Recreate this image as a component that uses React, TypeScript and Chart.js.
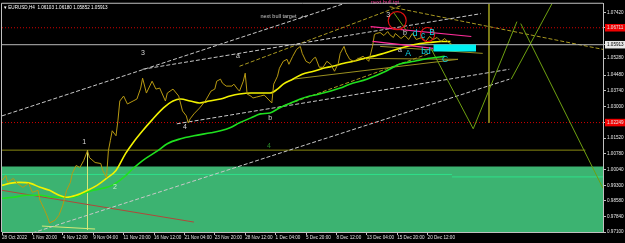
import React, { useEffect, useRef } from 'react';
import { Chart, registerables } from 'chart.js';

Chart.register(...registerables);

const X_MAX = 316.3;
const Y_MIN = 0.971;
const Y_MAX = 1.0784;

const symbolName = 'EURUSD,H4';
const ohlcValues = [1.06103, 1.0618, 1.05852, 1.05913];

const xTickBars = [0, 16, 32, 48, 64, 80, 96, 112, 128, 144, 160, 176, 192, 208, 224];
const xTickLabels = ['28 Oct 2022', '1 Nov 20:00', '4 Nov 12:00', '9 Nov 04:00', '11 Nov 20:00', '16 Nov 12:00', '21 Nov 04:00', '23 Nov 20:00', '28 Nov 12:00', '1 Dec 04:00', '5 Dec 20:00', '8 Dec 12:00', '13 Dec 04:00', '15 Dec 20:00', '20 Dec 12:00'];
const yTickValues = [1.0742, 1.06711, 1.05913, 1.0528, 1.0448, 1.0374, 1.03, 1.02249, 1.0152, 1.0078, 1.0004, 0.993, 0.9858, 0.9784, 0.971];

const bidPrice = 1.05913;
const redLevels = [1.06711, 1.02249];
const oliveLevel = 1.00952;
const zoneTop = 1.00182;
const greenLevels = [0.99808, 0.99692];
const greenLevelSplitBar = 236.8;

// [bar, close]
const priceCloses: [number, number][] = [
  [0, 0.99528], [2, 0.99759], [3, 0.99435], [6, 0.99621], [8, 0.99388], [11, 0.99201], [14, 0.99388], [16, 0.98968],
  [19, 0.99061], [20, 0.98594], [22, 0.98221], [24, 0.978], [25, 0.9752], [28, 0.9766], [30, 0.97894], [32, 0.98361],
  [34, 0.99061], [36, 0.99435], [37, 0.99855], [39, 1.00229], [41, 1.00135], [43, 1.00462], [45, 1.00929], [46, 1.00602],
  [49, 1.00369], [52, 1.00322], [53, 0.99995], [55, 0.99668], [56, 1.00929], [57, 1.01396], [58, 1.01863], [60, 1.01629],
  [61, 1.0233], [62, 1.03264], [64, 1.03497], [66, 1.03124], [69, 1.03264], [71, 1.03357], [73, 1.03871], [74, 1.04338],
  [76, 1.03638], [79, 1.04198], [81, 1.03824], [83, 1.03871], [86, 1.03264], [87, 1.03638], [90, 1.03824], [93, 1.03497],
  [95, 1.02797], [97, 1.02564], [98, 1.02237], [99, 1.02424], [101, 1.02657], [104, 1.02937], [107, 1.03264], [110, 1.03731],
  [112, 1.03824], [113, 1.04198], [115, 1.04291], [116, 1.04105], [118, 1.03965], [121, 1.03965], [122, 1.04058], [124, 1.03824],
  [125, 1.03731], [127, 1.04198], [128, 1.04572], [129, 1.03591], [131, 1.03497], [132, 1.03404], [134, 1.03451], [136, 1.03497],
  [138, 1.03544], [140, 1.03357], [142, 1.03171], [143, 1.04058], [145, 1.04432], [146, 1.04805], [148, 1.05132], [150, 1.05225],
  [151, 1.04992], [153, 1.05366], [155, 1.05692], [157, 1.05833], [158, 1.05506], [160, 1.05132], [162, 1.05039], [164, 1.05272],
  [165, 1.05319], [167, 1.04852], [169, 1.04852], [171, 1.05132], [173, 1.04992], [175, 1.04665], [177, 1.05039], [178, 1.05506],
  [180, 1.05833], [181, 1.05552], [183, 1.05225], [185, 1.05132], [187, 1.05225], [190, 1.05366], [192, 1.05225], [193, 1.05132],
  [195, 1.05833], [196, 1.06393], [197, 1.0644], [199, 1.06486], [201, 1.06346], [203, 1.06533], [204, 1.06393], [206, 1.06253],
  [207, 1.0644], [210, 1.06206], [212, 1.06346], [214, 1.06159], [216, 1.0644], [218, 1.06159], [221, 1.06253], [223, 1.06066],
  [225, 1.063], [227, 1.06159], [229, 1.06253], [231, 1.06066], [233, 1.06206], [235, 1.06019], [237, 1.05913],
];

const yellowMa: [number, number][] = [
  [0, 0.99295], [4, 0.99388], [9, 0.99435], [15, 0.99388], [20, 0.99201], [25, 0.99061], [30, 0.98828], [34, 0.98734],
  [39, 0.98828], [45, 0.99061], [50, 0.99295], [55, 0.99621], [60, 0.99995], [65, 1.00789], [69, 1.01303], [74, 1.01863],
  [79, 1.02377], [85, 1.02937], [90, 1.03264], [94, 1.03357], [99, 1.03264], [104, 1.03171], [109, 1.03264], [115, 1.03357],
  [120, 1.03497], [125, 1.03591], [131, 1.03638], [136, 1.03638], [141, 1.03638], [145, 1.03824], [148, 1.04058], [153, 1.04291],
  [158, 1.04525], [164, 1.04665], [169, 1.04805], [174, 1.04899], [180, 1.05039], [185, 1.05132], [191, 1.05272], [199, 1.05459],
  [209, 1.05739], [215, 1.05879], [220, 1.05973], [225, 1.06019], [231, 1.06066], [236, 1.06066],
];

const greenMa: [number, number][] = [
  [0, 0.98687], [6, 0.98734], [13, 0.98828], [20, 0.98828], [27, 0.98734], [32, 0.98734], [37, 0.98734], [43, 0.98921],
  [48, 0.99061], [53, 0.99154], [58, 0.99295], [64, 0.99668], [69, 1.00088], [74, 1.00462], [82, 1.00929], [87, 1.01256],
  [94, 1.01489], [101, 1.01629], [110, 1.0177], [115, 1.01863], [120, 1.02003], [125, 1.02237], [131, 1.0247], [136, 1.02657],
  [141, 1.02704], [146, 1.02937], [152, 1.03171], [157, 1.03357], [162, 1.03497], [167, 1.03591], [173, 1.03731], [178, 1.03871],
  [183, 1.04058], [192, 1.04291], [202, 1.04665], [209, 1.04992], [217, 1.05132], [225, 1.05272], [233, 1.05366],
];

// [bar1, price1, bar2, price2]
const grayDashSegments = [
  [0, 1.02564, 183, 1.07934],
  [74, 1.04758, 252, 1.07374],
  [16, 0.97053, 267, 1.04291],
  [92, 1.0219, 267, 1.04758],
];
const oliveDashSegments = [
  [125, 1.04899, 210, 1.07747],
  [145, 1.02937, 225, 1.05506],
  [204, 1.07701, 316.3, 1.05692],
];
const oliveSegments = [
  [153, 1.04291, 240, 1.05225],
  [187, 1.05272, 240, 1.05225],
  [199, 1.05833, 253, 1.05506],
];
const projectionSegments = [
  [226, 1.05692, 248, 1.01957],
  [248, 1.01957, 271, 1.06999],
  [268, 1.04291, 290, 1.07934],
  [273, 1.06907, 316.3, 0.99154],
  [205.8, 1.07467, 213.2, 1.06533],
];
const magentaSegments = [
  [194, 1.06767, 247, 1.063],
  [195, 1.06066, 227, 1.05739],
];
const brownSegments = [[0, 0.99061, 101, 0.97567]];
const paleSegments = [
  [45, 1.00929, 45, 0.97193],
  [21, 0.9738, 49, 0.9724],
];
const verticalSegments = [[256.3, 1.0784, 256.3, 1.02237]];

const cyanBoxBars = [227, 249.5];
const cyanBoxPrices = [1.05926, 1.05599];

const circleCenters: [number, number][] = [[208, 1.07047], [224, 1.06393]];

const textLabels = [
  { text: '3', bar: 74.2, price: 1.05506, tone: 'white' },
  { text: '1', bar: 43.2, price: 1.01349, tone: 'white' },
  { text: '2', bar: 59.5, price: 0.99201, tone: 'pale' },
  { text: '4', bar: 96.3, price: 1.0205, tone: 'white' },
  { text: 'a', bar: 124.2, price: 1.05366, tone: 'white' },
  { text: 'b', bar: 141.1, price: 1.0247, tone: 'white' },
  { text: '4', bar: 140.5, price: 1.01163, tone: 'dark' },
  { text: 'next bull target _++', bar: 148.4, price: 1.07234, tone: 'small' },
  { text: 'next bull tgt', bar: 201.6, price: 1.07887, tone: 'magenta' },
  { text: '3', bar: 203.2, price: 1.07327, tone: 'white' },
  { text: 'b', bar: 212.1, price: 1.0644, tone: 'white' },
  { text: 'a', bar: 209.5, price: 1.05646, tone: 'white' },
  { text: 'd', bar: 217.4, price: 1.0644, tone: 'cyan' },
  { text: 'c', bar: 221.6, price: 1.06346, tone: 'cyan' },
  { text: 'B', bar: 226.3, price: 1.06486, tone: 'cyan' },
  { text: 'A', bar: 213.7, price: 1.05506, tone: 'cyan' },
  { text: 'bd', bar: 223.2, price: 1.05599, tone: 'cyan' },
  { text: 'C', bar: 233.2, price: 1.05225, tone: 'cyan' },
];

const FONT = '"Liberation Sans", Arial, sans-serif';
const toneStyle: Record<string, { color: string; size: number }> = {
  white: { color: '#d8d8d8', size: 7 },
  pale: { color: '#c8f0c8', size: 7 },
  dark: { color: '#2a8a2a', size: 7 },
  small: { color: '#c8c8c8', size: 5.5 },
  magenta: { color: '#ff3399', size: 5.5 },
  cyan: { color: '#10d8e8', size: 8.5 },
};

const pts = (s: number[]) => [{ x: s[0], y: s[1] }, { x: s[2], y: s[3] }];

function lineDs(data: { x: number; y: number }[], color: string, width: number, dash: number[], order: number, extra: any = {}) {
  return {
    type: 'line',
    data,
    borderColor: color,
    borderWidth: width,
    borderDash: dash,
    pointRadius: 0,
    pointHoverRadius: 0,
    fill: false,
    tension: 0,
    order,
    ...extra,
  };
}

const mtPlugin = {
  id: 'mtDecor',
  beforeDraw(chart: any) {
    const { ctx, width, height } = chart;
    ctx.save();
    ctx.fillStyle = '#000000';
    ctx.fillRect(0, 0, width, height);
    ctx.restore();
  },
  afterDatasetsDraw(chart: any) {
    const { ctx, scales } = chart;
    ctx.save();
    ctx.textAlign = 'center';
    ctx.textBaseline = 'middle';
    textLabels.forEach((l) => {
      const st = toneStyle[l.tone];
      ctx.font = `${st.size}px ${FONT}`;
      ctx.fillStyle = st.color;
      ctx.fillText(l.text, scales.x.getPixelForValue(l.bar), scales.y.getPixelForValue(l.price));
    });
    ctx.restore();
  },
  afterDraw(chart: any) {
    const { ctx, chartArea } = chart;
    ctx.save();
    ctx.strokeStyle = '#c0c0c0';
    ctx.lineWidth = 1;
    ctx.beginPath();
    ctx.moveTo(chartArea.left - 0.5, chartArea.bottom);
    ctx.lineTo(chartArea.left - 0.5, chartArea.top - 0.5);
    ctx.lineTo(chartArea.right, chartArea.top - 0.5);
    ctx.stroke();
    ctx.font = `4.6px ${FONT}`;
    ctx.fillStyle = '#ffffff';
    ctx.textBaseline = 'middle';
    ctx.textAlign = 'left';
    ctx.fillText('\u25BE ' + symbolName + '  ' + ohlcValues.map((v) => v.toFixed(5)).join(' '), chartArea.left + 2, chartArea.top + 4);
    ctx.restore();
  },
};

export default function App() {
  const canvasRef = useRef<HTMLCanvasElement | null>(null);

  useEffect(() => {
    document.body.style.margin = '0';
    document.body.style.background = '#000';
    const canvas = canvasRef.current;
    if (!canvas) return;

    const datasets: any[] = [];
    datasets.push(lineDs([{ x: 0, y: zoneTop }, { x: X_MAX, y: zoneTop }], 'rgba(0,0,0,0)', 0, [], 100, { fill: 'start', backgroundColor: '#3cb371' }));
    datasets.push(lineDs([{ x: 0, y: greenLevels[0] }, { x: greenLevelSplitBar, y: greenLevels[0] }], '#2ee08a', 1, [], 90));
    datasets.push(lineDs([{ x: greenLevelSplitBar, y: greenLevels[1] }, { x: X_MAX, y: greenLevels[1] }], '#2ee08a', 1, [], 90));
    datasets.push(lineDs([{ x: 0, y: oliveLevel }, { x: 307, y: oliveLevel }], '#8a8a10', 1, [], 90));
    redLevels.forEach((v) => datasets.push(lineDs([{ x: 0, y: v }, { x: X_MAX, y: v }], '#d00000', 1, [1, 2], 89)));
    datasets.push(lineDs([{ x: 0, y: bidPrice }, { x: X_MAX, y: bidPrice }], '#b8b8b8', 1, [], 60));
    brownSegments.forEach((s) => datasets.push(lineDs(pts(s), '#b0483a', 1, [], 85)));
    paleSegments.forEach((s) => datasets.push(lineDs(pts(s), '#d8e878', 1, [], 85)));
    grayDashSegments.forEach((s) => datasets.push(lineDs(pts(s), '#c8c8c8', 1, [4, 2], 80)));
    oliveDashSegments.forEach((s) => datasets.push(lineDs(pts(s), '#a89820', 1, [4, 2], 80)));
    oliveSegments.forEach((s) => datasets.push(lineDs(pts(s), '#9a9020', 1, [], 80)));
    verticalSegments.forEach((s) => datasets.push(lineDs(pts(s), '#8c8c1c', 1, [], 80)));
    projectionSegments.forEach((s) => datasets.push(lineDs(pts(s), '#6ea010', 1, [], 78)));
    magentaSegments.forEach((s) => datasets.push(lineDs(pts(s), '#ff2d9a', 1.2, [], 45)));
    datasets.push(lineDs(greenMa.map(([x, y]) => ({ x, y })), '#1fe01f', 1.6, [], 55, { cubicInterpolationMode: 'monotone' }));
    datasets.push(lineDs(yellowMa.map(([x, y]) => ({ x, y })), '#f2f200', 1.6, [], 52, { cubicInterpolationMode: 'monotone' }));
    datasets.push(lineDs(priceCloses.map(([x, y]) => ({ x, y })), '#b89a12', 1, [], 50));
    datasets.push(lineDs([{ x: cyanBoxBars[0], y: cyanBoxPrices[0] }, { x: cyanBoxBars[1], y: cyanBoxPrices[0] }], 'rgba(0,0,0,0)', 0, [], 30, { fill: { value: cyanBoxPrices[1] }, backgroundColor: '#00f0f0' }));
    datasets.push({
      type: 'line',
      data: circleCenters.map(([x, y]) => ({ x, y })),
      showLine: false,
      pointRadius: [9, 7],
      pointHoverRadius: 0,
      pointBorderColor: '#e01010',
      pointBackgroundColor: 'rgba(0,0,0,0)',
      pointBorderWidth: 1.2,
      order: 20,
    });

    const chart = new Chart(canvas, {
      type: 'line',
      data: { datasets },
      plugins: [mtPlugin],
      options: {
        animation: false,
        responsive: false,
        devicePixelRatio: 1,
        events: [],
        layout: { autoPadding: false, padding: { left: 2, top: 2, right: 0, bottom: 0 } },
        plugins: { legend: { display: false }, tooltip: { enabled: false } },
        scales: {
          x: {
            type: 'linear',
            min: 0,
            max: X_MAX,
            afterFit: (s: any) => { s.height = 11; },
            afterBuildTicks: (s: any) => { s.ticks = xTickBars.map((v) => ({ value: v })); },
            ticks: {
              autoSkip: false,
              maxRotation: 0,
              minRotation: 0,
              align: 'start',
              padding: 0,
              color: '#e0e0e0',
              font: { size: 4.6, family: FONT },
              callback: (_v: any, i: number) => xTickLabels[i],
            },
            grid: { drawOnChartArea: false, drawTicks: true, tickLength: 3, color: '#c0c0c0' },
            border: { display: true, color: '#c0c0c0' },
          },
          y: {
            type: 'linear',
            position: 'right',
            min: Y_MIN,
            max: Y_MAX,
            afterFit: (s: any) => { s.width = 22; },
            afterBuildTicks: (s: any) => { s.ticks = yTickValues.map((v) => ({ value: v })); },
            ticks: {
              autoSkip: false,
              padding: 1,
              font: { size: 4.6, family: FONT },
              color: (c: any) => (c.tick && c.tick.value === bidPrice ? '#000000' : '#e8e8e8'),
              showLabelBackdrop: (c: any) => !!c.tick && (redLevels.includes(c.tick.value) || c.tick.value === bidPrice),
              backdropColor: (c: any) => (c.tick && c.tick.value === bidPrice ? '#e8e8e8' : '#f00000'),
              backdropPadding: { x: 2, y: 1 },
              callback: (v: any) => Number(v).toFixed(5),
            },
            grid: { drawOnChartArea: false, drawTicks: true, tickLength: 3, color: '#c0c0c0' },
            border: { display: true, color: '#c0c0c0' },
          },
        },
      } as any,
    } as any);

    return () => chart.destroy();
  }, []);

  return (
    <div style={{ width: 625, height: 243, background: '#000' }}>
      <canvas ref={canvasRef} width={625} height={243} style={{ display: 'block' }} />
    </div>
  );
}
